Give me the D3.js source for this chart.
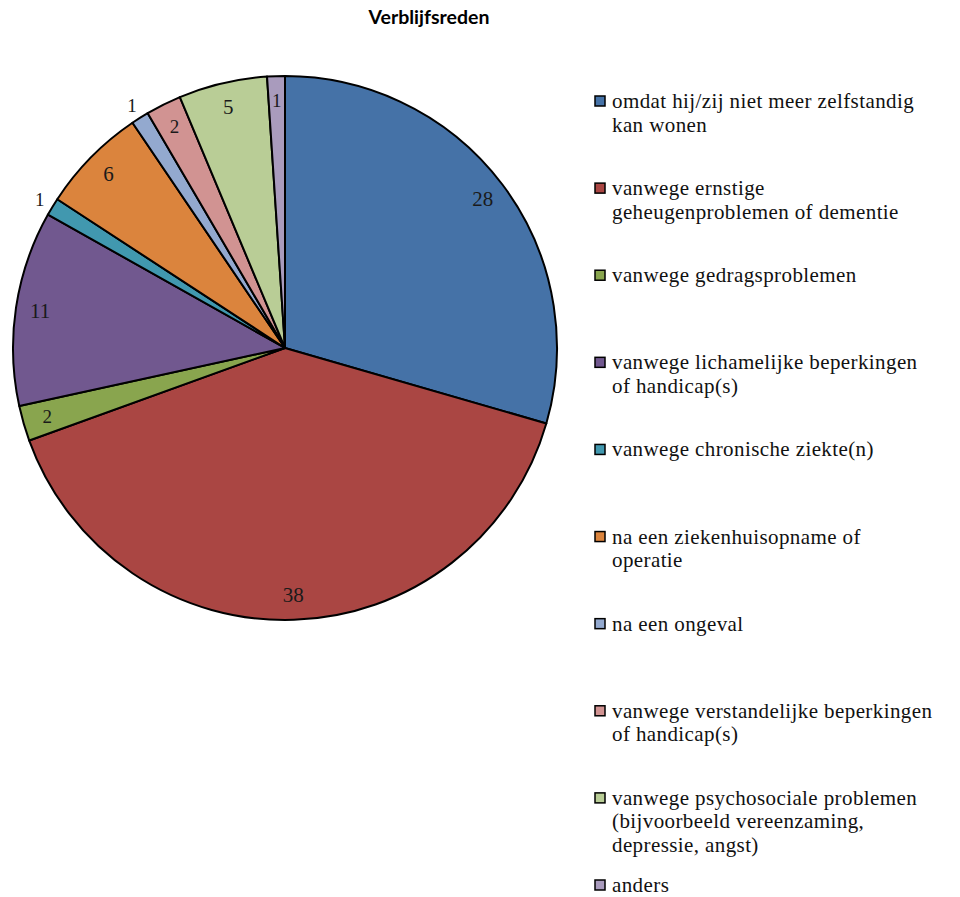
<!DOCTYPE html>
<html>
<head>
<meta charset="utf-8">
<title>Verblijfsreden</title>
<script src="https://d3js.org/d3.v7.min.js"></script>
<style>
  body { margin: 0; background: #fff; }
  svg { display: block; }
  .title { font-family: "Lato", "Open Sans", sans-serif; font-weight: bold; font-size: 19.5px; fill: #000; }
  .lbl { font-family: "Liberation Serif", "DejaVu Serif", serif; fill: #1a1a1a; }
  .leg { font-family: "Liberation Serif", "DejaVu Serif", serif; font-size: 21px; letter-spacing: 0.4px; fill: #111; }
</style>
</head>
<body>
<script>
// categories (legend text, line breaks as in the original)
const categories = [
  "omdat hij/zij niet meer zelfstandig\nkan wonen",
  "vanwege ernstige\ngeheugenproblemen of dementie",
  "vanwege gedragsproblemen",
  "vanwege lichamelijke beperkingen\nof handicap(s)",
  "vanwege chronische ziekte(n)",
  "na een ziekenhuisopname of\noperatie",
  "na een ongeval",
  "vanwege verstandelijke beperkingen\nof handicap(s)",
  "vanwege psychosociale problemen\n(bijvoorbeeld vereenzaming,\ndepressie, angst)",
  "anders"
];
const values = [28, 38, 2, 11, 1, 6, 1, 2, 5, 1];
const colors = ["#4572A7", "#AA4643", "#89A54E", "#71588F", "#4198AF",
                "#DB843D", "#93A9CF", "#D19392", "#B9CD96", "#A99BBD"];

const W = 960, H = 897;
const cx = 285, cy = 348, R = 272;

const svg = d3.select("body").append("svg")
  .attr("width", W).attr("height", H);

svg.append("text").attr("class", "title")
  .attr("x", 429).attr("y", 24)
  .attr("text-anchor", "middle")
  .text("Verblijfsreden");

const data = values.map((v, i) => ({ v: v, i: i }));
const pie = d3.pie().value(d => d.v).sort(null);
const arcs = pie(data);
const arc = d3.arc().innerRadius(0).outerRadius(R);

const g = svg.append("g").attr("transform", `translate(${cx},${cy})`);

g.selectAll("path").data(arcs).enter().append("path")
  .attr("d", arc)
  .attr("fill", d => colors[d.data.i])
  .attr("stroke", "#000")
  .attr("stroke-width", 2)
  .attr("stroke-linejoin", "round");

// the thin 1-slices on the upper left get their label outside the pie
function labelRadius(d) {
  const ang = (d.startAngle + d.endAngle) / 2;
  if (d.data.v === 1 && ang > Math.PI * 1.5 && ang < Math.PI * 1.9) return R + 15;
  return R * 0.91;
}

g.selectAll("text.lbl").data(arcs).enter().append("text")
  .attr("class", "lbl")
  .attr("text-anchor", "middle")
  .attr("dominant-baseline", "central")
  .attr("font-size", d => d.data.v >= 5 ? 21 : 19)
  .attr("x", d => { const a = (d.startAngle + d.endAngle) / 2; return Math.sin(a) * labelRadius(d); })
  .attr("y", d => { const a = (d.startAngle + d.endAngle) / 2; return -Math.cos(a) * labelRadius(d); })
  .text(d => d.data.v);

// legend
const legY = d3.scalePoint().domain(d3.range(categories.length)).range([101, 885]);
const leg = svg.append("g");
const items = leg.selectAll("g").data(categories).enter().append("g")
  .attr("transform", (d, i) => `translate(594,${legY(i)})`);

items.append("rect")
  .attr("x", 1).attr("y", -5)
  .attr("width", 10).attr("height", 10)
  .attr("fill", (d, i) => colors[i])
  .attr("stroke", "#000").attr("stroke-width", 1.5);

items.append("text").attr("class", "leg")
  .attr("x", 18).attr("y", 7)
  .each(function (d) {
    const t = d3.select(this);
    d.split("\n").forEach((line, k) => {
      t.append("tspan").attr("x", 18).attr("dy", k === 0 ? 0 : 23.5).text(line);
    });
  });
</script>
</body>
</html>
